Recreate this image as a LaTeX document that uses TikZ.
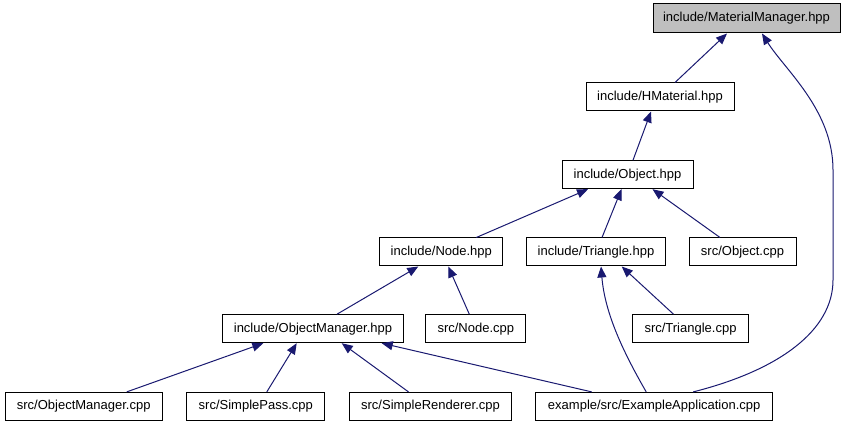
\documentclass[tikz,border=0pt]{standalone}
\usepackage{fontspec}
\setmainfont{Liberation Sans}
\usetikzlibrary{arrows.meta}
\definecolor{edgeblue}{HTML}{191970}
\definecolor{hilite}{HTML}{BFBFBF}
\begin{document}
\begin{tikzpicture}[x=1pt,y=-1pt,
  box/.style={draw=black,line width=1pt,minimum height=28pt,inner sep=0pt,
    font=\fontsize{13}{15}\selectfont,fill=white},
  dep/.style={draw=edgeblue,line width=1pt,-{Triangle[length=11pt,width=9pt]}}]
\useasboundingbox (0,0) rectangle (845,427);
% nodes
\node[box,fill=hilite,minimum width=187pt,minimum height=29pt] (mm) at (746.5,18.5) {include/MaterialManager.hpp};
\node[box,minimum width=148pt] (hm) at (660,97) {include/HMaterial.hpp};
\node[box,minimum width=131pt] (obj) at (627.5,174.7) {include/Object.hpp};
\node[box,minimum width=123pt] (nodeh) at (441.3,252) {include/Node.hpp};
\node[box,minimum width=139pt] (tri) at (596,252) {include/Triangle.hpp};
\node[box,minimum width=107pt] (ocpp) at (742.5,252) {src/Object.cpp};
\node[box,minimum width=181pt] (om) at (313,328.7) {include/ObjectManager.hpp};
\node[box,minimum width=100pt] (ncpp) at (475.8,328.7) {src/Node.cpp};
\node[box,minimum width=116pt] (tcpp) at (690.5,328.7) {src/Triangle.cpp};
\node[box,minimum width=157pt] (omcpp) at (83.7,406.4) {src/ObjectManager.cpp};
\node[box,minimum width=138pt] (sp) at (255.8,406.4) {src/SimplePass.cpp};
\node[box,minimum width=162pt] (sr) at (430.5,406.4) {src/SimpleRenderer.cpp};
\node[box,minimum width=237pt] (ea) at (654.2,406.4) {example/src/ExampleApplication.cpp};
% edges
\draw[dep] ([xshift=15pt]hm.north) -- ([xshift=-19.5pt]mm.south);
\draw[dep] ([xshift=39pt]ea.north) .. controls (780,370) and (833,330) .. (833,280)
  -- (833,170) .. controls (833,110) and (785,70) .. ([xshift=15.5pt]mm.south);
\draw[dep] ([xshift=5.5pt]obj.north) -- ([xshift=-9pt]hm.south);
\draw[dep] ([xshift=35pt]nodeh.north) -- ([xshift=-39.5pt]obj.south);
\draw[dep] ([xshift=6pt]tri.north) -- ([xshift=-6pt]obj.south);
\draw[dep] ([xshift=-22.5pt]ocpp.north) -- ([xshift=25pt]obj.south);
\draw[dep] ([xshift=24pt]om.north) -- ([xshift=-23pt]nodeh.south);
\draw[dep] ([xshift=-6.5pt]ncpp.north) -- ([xshift=7pt]nodeh.south);
\draw[dep] ([xshift=-8pt]ea.north) .. controls (625,355) and (605,315) .. ([xshift=5pt]tri.south);
\draw[dep] ([xshift=-17pt]tcpp.north) -- ([xshift=25.7pt]tri.south);
\draw[dep] ([xshift=43pt]omcpp.north) -- ([xshift=-49.7pt]om.south);
\draw[dep] ([xshift=11pt]sp.north) -- ([xshift=-16.3pt]om.south);
\draw[dep] ([xshift=-22pt]sr.north) -- ([xshift=28.7pt]om.south);
\draw[dep] ([xshift=-62.5pt]ea.north) -- ([xshift=68.7pt]om.south);
\end{tikzpicture}
\end{document}
